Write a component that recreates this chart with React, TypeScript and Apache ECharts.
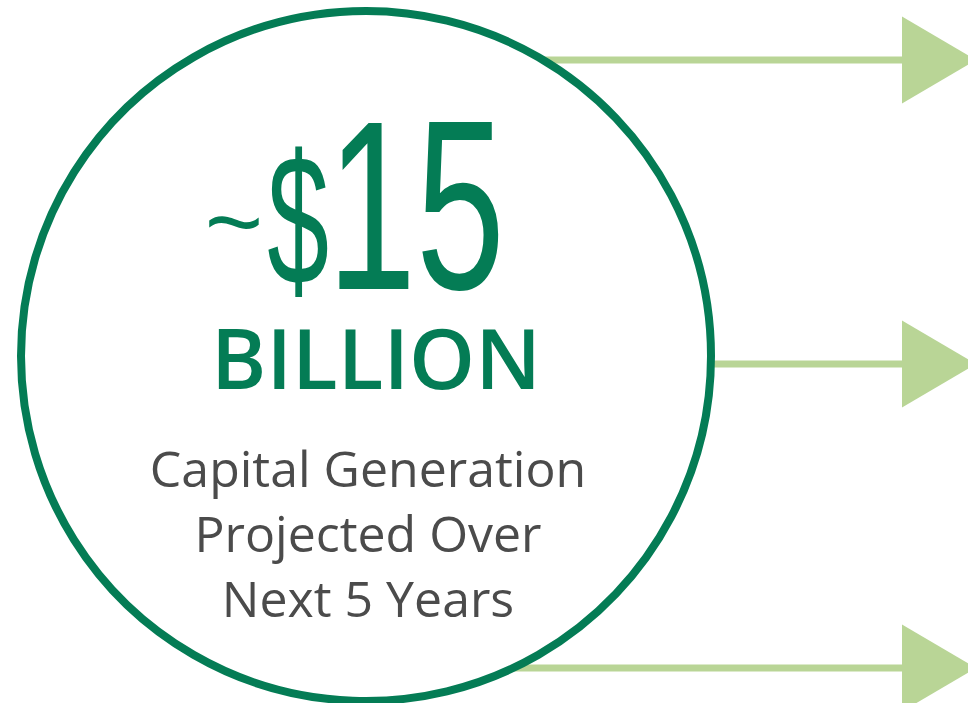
import React, { useEffect, useRef } from "react";
import * as echarts from "echarts";

// ---- content ----
const tildeText = "~";
const currencyText = "$";
const amountText = "15";
const unitText = "BILLION";
const descriptionLines = ["Capital Generation", "Projected Over", "Next 5 Years"];
const arrowCount = 3;

// ---- style ----
const GREEN = "#047C55";
const LIGHT_GREEN = "#B9D596";
const GREY = "#4B4B4B";

export default function App() {
  const ref = useRef<HTMLDivElement>(null);
  useEffect(() => {
    if (!ref.current) return;
    const chart = echarts.init(ref.current, undefined, { renderer: "svg" });

    const cx = 366;
    const cy = 356;
    const r = 345;
    const arrowTop = 60;
    const arrowGap = 304;
    const headBase = 902;
    const headTip = 976;
    const headHalf = 43.5;

    const arrows: any[] = [];
    for (let i = 0; i < arrowCount; i++) {
      const y = arrowTop + i * arrowGap;
      arrows.push({
        type: "line",
        shape: { x1: cx, y1: y, x2: headBase + 2, y2: y },
        style: { stroke: LIGHT_GREEN, lineWidth: 7 },
      });
      arrows.push({
        type: "polygon",
        shape: { points: [[headBase, y - headHalf], [headTip, y], [headBase, y + headHalf]] },
        style: { fill: LIGHT_GREEN },
      });
    }

    const bodyBaselines = [467.6, 532.6, 597.6];

    chart.setOption({
      animation: false,
      backgroundColor: "#ffffff",
      graphic: [
        ...arrows,
        {
          type: "circle",
          shape: { cx, cy, r },
          style: { fill: "#ffffff", stroke: GREEN, lineWidth: 8 },
        },
        {
          type: "text",
          x: 234,
          y: 221,
          style: {
            text: tildeText,
            fill: GREEN,
            font: "100px 'Liberation Sans'",
            textAlign: "center",
            textVerticalAlign: "middle",
          },
        },
        {
          type: "text",
          x: 298,
          y: 219.5,
          scaleX: 0.6,
          style: {
            text: currencyText,
            fill: GREEN,
            font: "185px 'Liberation Sans'",
            textAlign: "center",
            textVerticalAlign: "middle",
          },
        },
        {
          type: "text",
          x: 416,
          y: 205,
          scaleX: 0.66,
          style: {
            text: amountText,
            fill: GREEN,
            font: "242px 'Liberation Sans'",
            textAlign: "center",
            textVerticalAlign: "middle",
          },
        },
        {
          type: "text",
          x: 376,
          y: 356,
          style: {
            text: unitText,
            fill: GREEN,
            font: "600 84px 'Open Sans'",
            textAlign: "center",
            textVerticalAlign: "middle",
          },
        },
        ...descriptionLines.map((line, i) => ({
          type: "text",
          x: 368,
          y: bodyBaselines[i],
          style: {
            text: line,
            fill: GREY,
            font: "50px 'Open Sans'",
            textAlign: "center",
            textVerticalAlign: "middle",
          },
        })),
      ],
    });
    return () => chart.dispose();
  }, []);
  return (
    <div
      ref={ref}
      style={{ position: "fixed", left: 0, top: 0, width: 968, height: 703, background: "#fff" }}
    />
  );
}
